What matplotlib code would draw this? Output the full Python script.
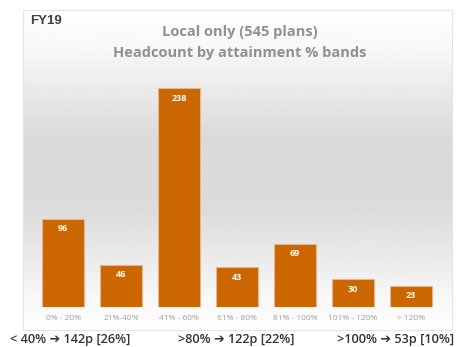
import numpy as np
import matplotlib.pyplot as plt

# данные
bands = ['0% - 20%', '21%-40%', '41% - 60%', '61% - 80%', '81% - 100%', '101% - 120%', '> 120%']
headcount = [96, 46, 238, 43, 69, 30, 23]
summary = ['< 40% \u2794 142p [26%]', '>80% \u2794 122p [22%]', '>100% \u2794 53p [10%]']

W, H = 459, 347
fig = plt.figure(figsize=(W / 100, H / 100), dpi=100)
fig.patch.set_facecolor('white')

# фон рамки с градиентом
bg = fig.add_axes([23 / W, 1 - 330 / H, (452 - 23) / W, (330 - 10) / H])
t = np.linspace(0, 1, 300)
shade = np.interp(t, [0, 0.12, 0.4, 0.62, 0.9, 1.0], [1.0, 0.97, 0.855, 0.86, 0.97, 1.0])
bg.imshow(np.tile(shade[:, None], (1, 2)), cmap='gray', vmin=0, vmax=1,
          aspect='auto', extent=[0, 1, 0, 1], origin='upper')
bg.set_xticks([])
bg.set_yticks([])
for s in bg.spines.values():
    s.set_color('#e4e4e4')
    s.set_linewidth(0.8)

# столбцы
ax = fig.add_axes([34 / W, 1 - 307 / H, 406 / W, 239 / H])
ax.patch.set_alpha(0)
x = np.arange(len(bands))
bars = ax.bar(x, headcount, width=0.71, color='#CC6600', edgecolor='#EBB58A', linewidth=0.8)
ax.set_xlim(-0.5, len(bands) - 0.5)
ax.set_ylim(0, 260)
for b, v in zip(bars, headcount):
    ax.text(b.get_x() + b.get_width() / 2, v - 11, str(v), ha='center', va='center',
            color='white', fontsize=6.5, fontweight='bold', family='Open Sans')
ax.set_xticks(x)
ax.set_xticklabels(bands, fontsize=6, color='#a0a0a0', family='Open Sans')
ax.tick_params(axis='x', length=0, pad=6)
ax.set_yticks([])
for s in ax.spines.values():
    s.set_visible(False)

# заголовки
fig.text(30 / W, 1 - 21 / H, 'FY19', fontsize=9.5, color='#404040', fontweight='bold',
         family='Liberation Sans', va='center')
fig.text(240 / W, 1 - 32 / H, 'Local only (545 plans)', fontsize=10.5, color='#909090',
         fontweight='bold', family='Open Sans', ha='center', va='center')
fig.text(240 / W, 1 - 53 / H, 'Headcount by attainment % bands', fontsize=10.5, color='#909090',
         fontweight='bold', family='Open Sans', ha='center', va='center')

# итоги внизу
for xp, s in zip([10, 178, 337], summary):
    fig.text(xp / W, 1 - 340 / H, s, fontsize=9.2, color='#333333', fontweight='semibold',
             family=['Open Sans', 'DejaVu Sans'], va='center', ha='left')

plt.savefig('out.png', dpi=100)
